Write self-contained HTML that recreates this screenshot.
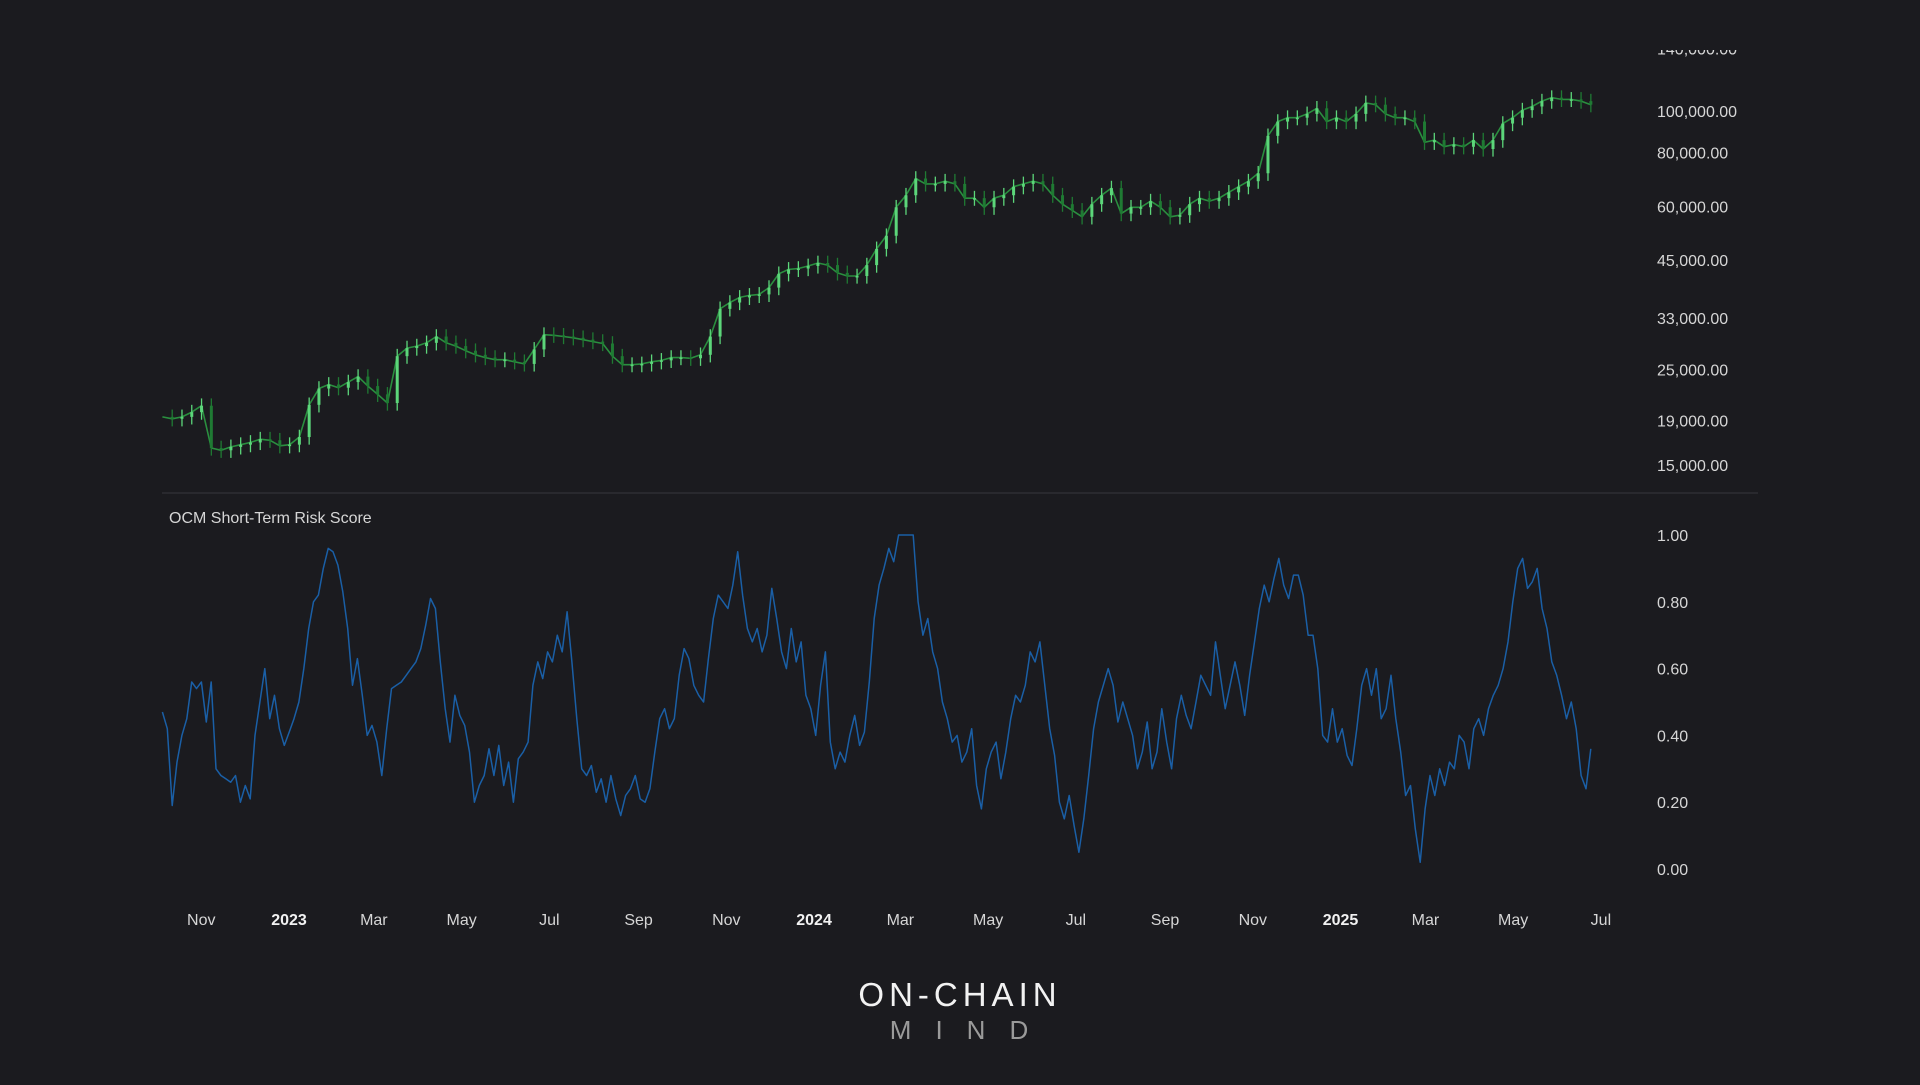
<!DOCTYPE html>
<html><head><meta charset="utf-8">
<style>
html,body{margin:0;padding:0;background:#1b1b1f;}
body{width:1920px;height:1080px;overflow:hidden;font-family:"Liberation Sans",sans-serif;}
svg text{font-family:"Liberation Sans",sans-serif;}
</style></head>
<body>
<svg id="chart" width="1920" height="1080" viewBox="0 0 1920 1080" xmlns="http://www.w3.org/2000/svg">
<rect width="1920" height="1080" fill="#1b1b1f"/>
<defs><clipPath id="pclip"><rect x="150" y="50" width="1700" height="437"/></clipPath></defs>
<g id="price-pane" clip-path="url(#pclip)"></g>
<line x1="162" y1="493" x2="1758" y2="493" stroke="#2e2e34" stroke-width="1.5"/>
<text x="169" y="523" fill="#d6d6d6" font-size="16">OCM Short-Term Risk Score</text>
<g id="risk-pane"></g>
<g id="x-axis"></g>
<g>
<text x="960" y="1006" text-anchor="middle" fill="#f2f2f2" font-size="33" letter-spacing="5">ON-CHAIN</text>
<text x="971" y="1039" text-anchor="middle" fill="#9a9a9a" font-size="26" letter-spacing="24">MIND</text>
</g>
</svg>
<script>
// ---- data ----
const priceValues = [19.5,19.3,19.5,20.0,20.7,16.5,16.3,16.6,16.8,17.0,17.3,17.2,16.7,16.8,17.5,20.8,22.7,23.2,22.8,23.5,24.2,23,22,21,27,28.2,28.5,29,30,29,28.5,27.8,27.2,26.8,26.5,26.5,26.2,25.9,28,30.3,30.2,30,29.8,29.5,29.2,28.9,27,25.8,25.8,25.9,26.2,26.4,26.8,26.8,26.7,27.2,30,34.8,36,37,37.4,37.6,39,42,43,43.2,43.8,44.5,44,42.2,41.5,41.5,44,48,51.5,60,64,70,68,68,69,68,63,63,60,63,64,67,68,69,68,64,61,59,57,61,64,66.5,58,60,60,62,60,57,57.5,61,63,62,63,65,67,69,72,88,95,97,97,99,102,95,97,95,99,105,104,99,97,97,95,85,86,83,84,83,86,82,86,94,97,101,103,106,108,107,107,106,104];
const riskValues = [0.47,0.42,0.19,0.32,0.40,0.45,0.56,0.54,0.56,0.44,0.56,0.30,0.28,0.27,0.26,0.28,0.20,0.25,0.21,0.40,0.50,0.60,0.45,0.52,0.42,0.37,0.41,0.45,0.50,0.60,0.72,0.80,0.82,0.90,0.96,0.95,0.91,0.83,0.72,0.55,0.63,0.52,0.40,0.43,0.38,0.28,0.42,0.54,0.55,0.56,0.58,0.60,0.62,0.66,0.73,0.81,0.78,0.62,0.48,0.38,0.52,0.46,0.43,0.35,0.20,0.25,0.28,0.36,0.28,0.37,0.25,0.32,0.20,0.33,0.35,0.38,0.55,0.62,0.57,0.65,0.62,0.70,0.65,0.77,0.62,0.45,0.30,0.28,0.31,0.23,0.27,0.20,0.28,0.21,0.16,0.22,0.24,0.28,0.21,0.20,0.24,0.35,0.45,0.48,0.42,0.45,0.58,0.66,0.63,0.55,0.52,0.50,0.63,0.75,0.82,0.80,0.78,0.85,0.95,0.82,0.72,0.68,0.72,0.65,0.70,0.84,0.75,0.65,0.60,0.72,0.62,0.68,0.52,0.48,0.40,0.55,0.65,0.38,0.30,0.35,0.32,0.40,0.46,0.37,0.41,0.56,0.75,0.85,0.90,0.96,0.92,1.00,1.00,1.00,1.00,0.80,0.70,0.75,0.65,0.60,0.50,0.45,0.38,0.40,0.32,0.35,0.42,0.25,0.18,0.30,0.35,0.38,0.27,0.35,0.45,0.52,0.50,0.55,0.65,0.62,0.68,0.55,0.42,0.34,0.20,0.15,0.22,0.13,0.05,0.15,0.28,0.42,0.50,0.55,0.60,0.55,0.44,0.50,0.45,0.40,0.30,0.35,0.44,0.30,0.35,0.48,0.38,0.30,0.45,0.52,0.46,0.42,0.50,0.58,0.55,0.52,0.68,0.58,0.48,0.55,0.62,0.55,0.46,0.58,0.68,0.78,0.85,0.80,0.87,0.93,0.85,0.81,0.88,0.88,0.82,0.70,0.70,0.60,0.40,0.38,0.48,0.38,0.42,0.34,0.31,0.42,0.55,0.60,0.52,0.60,0.45,0.48,0.58,0.45,0.35,0.22,0.25,0.12,0.02,0.18,0.28,0.22,0.30,0.25,0.32,0.30,0.40,0.38,0.30,0.42,0.45,0.40,0.48,0.52,0.55,0.60,0.68,0.80,0.90,0.93,0.84,0.86,0.90,0.78,0.72,0.62,0.58,0.52,0.45,0.50,0.42,0.28,0.24,0.36];
const priceTicks = [140000,100000,80000,60000,45000,33000,25000,19000,15000];
const riskTicks = [1.00,0.80,0.60,0.40,0.20,0.00];
const monthLabels = ["Nov","2023","Mar","May","Jul","Sep","Nov","2024","Mar","May","Jul","Sep","Nov","2025","Mar","May","Jul"];
const monthDays = [-61,0,59,120,181,243,304,365,425,486,547,609,670,731,790,851,912]; // days since 2023-01-01
const startDay = -88, endDay = 905;

// ---- axes ----
const NS = "http://www.w3.org/2000/svg";
function xDay(d){ return 289 + d*1.4385; }
function yPrice(p){ return 112 + (5 - Math.log10(p))*429.4; }
function yRisk(v){ return 869 - v*334; }
function mk(tag, attrs, parent){ const e=document.createElementNS(NS,tag); for(const k in attrs) e.setAttribute(k,attrs[k]); parent.appendChild(e); return e; }

const pricePane = document.getElementById('price-pane');
const riskPane = document.getElementById('risk-pane');
const xAxis = document.getElementById('x-axis');

// price line + candles
const pStep = (endDay-startDay)/(priceValues.length-1);
let pts = priceValues.map((v,i)=> xDay(startDay+i*pStep).toFixed(1)+','+yPrice(v*1000).toFixed(1)).join(' ');
const pl = mk('polyline',{points:pts,fill:'none',stroke:'#2a8f3f','stroke-width':1.6,'stroke-linejoin':'round'},pricePane);


priceValues.forEach((v,i)=>{
  if(i===0) return;
  const o = priceValues[i-1]*1000, c = v*1000;
  const x = xDay(startDay+i*pStep);
  const hi = Math.max(o,c)*1.04, lo = Math.min(o,c)*0.96;
  const up = c>=o;
  const col = up ? '#5cd67a' : '#1f7a33';
  const w = mk('line',{x1:x,x2:x,y1:yPrice(hi),y2:yPrice(lo),stroke:col,'stroke-width':1.3},pricePane);
  
  
  const b = mk('rect',{x:x-1.5,width:3,y:yPrice(Math.max(o,c)),height:Math.max(1.5,yPrice(Math.min(o,c))-yPrice(Math.max(o,c))),fill:col},pricePane);
  
  
});
priceTicks.forEach(t=>{
  const tx = mk('text',{x:1657,y:yPrice(t)+5,fill:'#d6d6d6','font-size':16},pricePane);
  
  
  tx.textContent = t.toLocaleString('en-US',{minimumFractionDigits:2});
});

// risk line
const rStep = (endDay-startDay)/(riskValues.length-1);
const rpts = riskValues.map((v,i)=> xDay(startDay+i*rStep).toFixed(1)+','+yRisk(v).toFixed(1)).join(' ');
const rl = mk('polyline',{points:rpts,fill:'none',stroke:'#1a5fa6','stroke-width':1.5,'stroke-linejoin':'round'},riskPane);


riskTicks.forEach(t=>{
  const tx = mk('text',{x:1657,y:yRisk(t)+6,fill:'#d6d6d6','font-size':16},riskPane);
  
  
  tx.textContent = t.toFixed(2);
});

// x axis
monthLabels.forEach((m,i)=>{
  const bold = /^\d+$/.test(m);
  const tx = mk('text',{x:xDay(monthDays[i]),y:925,fill:bold?'#f2f2f2':'#d6d6d6','font-size':16,'text-anchor':'middle','font-weight':bold?'bold':'normal'},xAxis);
  
  
  tx.textContent = m;
});
</script>
</body></html>
